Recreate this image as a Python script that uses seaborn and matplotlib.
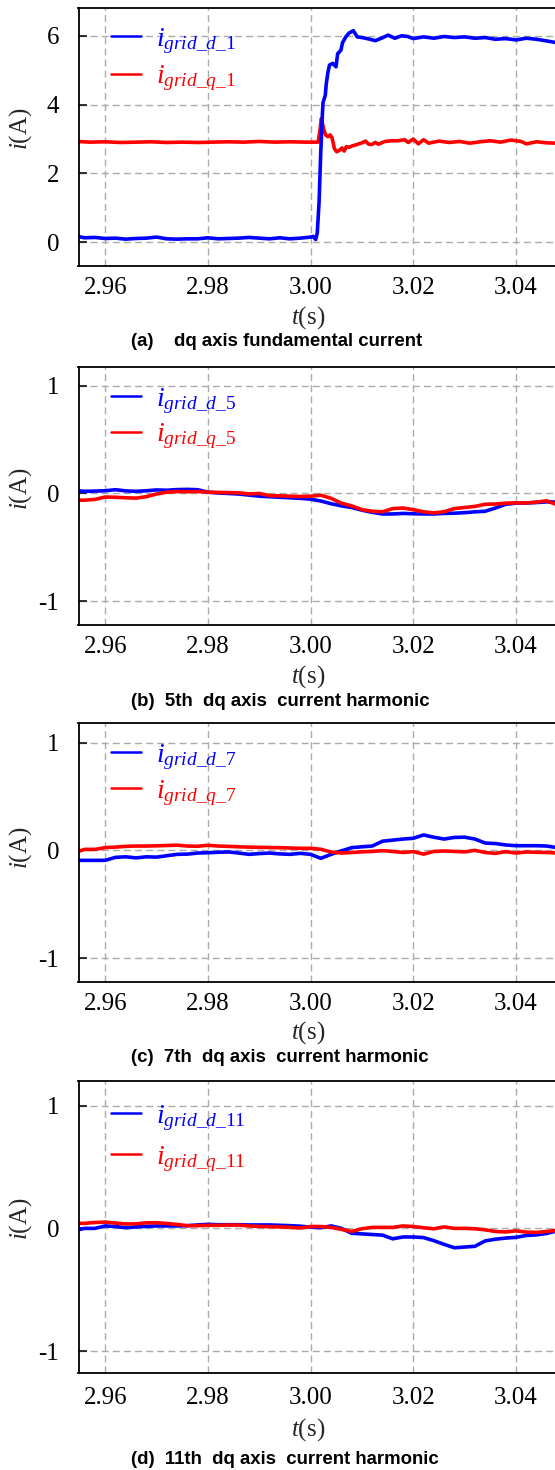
import matplotlib
matplotlib.use("Agg")
import matplotlib.pyplot as plt
import seaborn as sns

# ---------------- measured currents ----------------
# (a) fundamental dq currents
t_d1 = [2.9546, 2.956, 2.958, 2.960, 2.962, 2.964, 2.966, 2.968, 2.970, 2.972, 2.974, 2.976,
        2.978, 2.980, 2.982, 2.984, 2.986, 2.988, 2.990, 2.992, 2.994, 2.996, 2.998, 3.000,
        3.0005, 3.0010, 3.0013, 3.00165, 3.00197, 3.00222, 3.00241, 3.00286, 3.00305, 3.00337,
        3.00368, 3.00432, 3.00495, 3.00527, 3.0059, 3.00622, 3.00686, 3.00749, 3.00832, 3.00908,
        3.0100, 3.0113, 3.0126, 3.0138, 3.0151, 3.0164, 3.0177, 3.0189,
        3.020, 3.022, 3.024, 3.026, 3.028, 3.030, 3.032, 3.034, 3.036, 3.038, 3.040, 3.042,
        3.044, 3.046, 3.048]
i_d1 = [0.17, 0.13, 0.14, 0.11, 0.12, 0.09, 0.11, 0.12, 0.15, 0.10, 0.09, 0.10,
        0.10, 0.13, 0.10, 0.11, 0.12, 0.14, 0.12, 0.10, 0.13, 0.10, 0.12, 0.15,
        0.17, 0.08, 0.27, 1.16, 2.58, 3.47, 4.05, 4.27, 4.60, 4.93,
        5.15, 5.20, 5.10, 5.48, 5.58, 5.80, 5.97, 6.08, 6.15, 5.97,
        5.95, 5.91, 5.86, 5.93, 6.02, 5.93, 6.00, 5.98,
        5.92, 5.97, 5.93, 5.98, 5.95, 5.97, 5.93, 5.95, 5.90, 5.92, 5.88, 5.93,
        5.90, 5.85, 5.80]

t_q1 = [2.9546, 2.957, 2.960, 2.963, 2.966, 2.969, 2.972, 2.975, 2.978, 2.981, 2.984, 2.987,
        2.990, 2.993, 2.996, 2.999,
        3.00146, 3.00178, 3.0021, 3.00229, 3.00254, 3.00292, 3.00337, 3.00381, 3.00419, 3.00464,
        3.00508, 3.00559, 3.0061, 3.00654, 3.00698, 3.0075, 3.0081, 3.0088, 3.0094, 3.0100,
        3.0107, 3.0113, 3.0119, 3.0126, 3.0132, 3.0145, 3.0157, 3.0170, 3.0183, 3.0190,
        3.020, 3.021, 3.022, 3.023, 3.025, 3.027, 3.029, 3.031, 3.033, 3.035, 3.037, 3.039,
        3.041, 3.042, 3.044, 3.046, 3.048]
i_q1 = [2.93, 2.91, 2.92, 2.90, 2.91, 2.92, 2.90, 2.91, 2.90, 2.91, 2.92, 2.91,
        2.93, 2.91, 2.92, 2.91,
        2.91, 3.20, 3.60, 3.47, 3.29, 3.12, 3.07, 3.12, 3.03, 2.72,
        2.63, 2.67, 2.74, 2.65, 2.78, 2.76, 2.80, 2.83, 2.86, 2.89,
        2.94, 2.85, 2.84, 2.90, 2.85, 2.93, 2.95, 2.95, 2.98, 2.90,
        3.00, 2.86, 2.98, 2.88, 2.94, 2.90, 2.93, 2.88, 2.92, 2.95, 2.91, 2.97,
        2.93, 2.86, 2.92, 2.89, 2.88]

# (b)-(d) harmonic dq currents, common sampling instants
t_h = [2.9546, 2.956, 2.958, 2.960, 2.962, 2.964, 2.966, 2.968, 2.970, 2.972, 2.974, 2.976,
       2.978, 2.980, 2.982, 2.984, 2.986, 2.988, 2.990, 2.992, 2.994, 2.996, 2.998, 3.000,
       3.002, 3.004, 3.006, 3.008, 3.010, 3.012, 3.014, 3.016, 3.018, 3.020, 3.022, 3.024,
       3.026, 3.028, 3.030, 3.032, 3.034, 3.036, 3.038, 3.040, 3.042, 3.044, 3.046, 3.048]

i_d5 = [0.025, 0.020, 0.022, 0.025, 0.035, 0.024, 0.020, 0.025, 0.033, 0.030, 0.036, 0.038,
        0.035, 0.012, 0.005, 0.000, -0.005, -0.015, -0.025, -0.030, -0.035, -0.040, -0.045, -0.053,
        -0.070, -0.095, -0.115, -0.130, -0.155, -0.175, -0.190, -0.190, -0.185, -0.188, -0.190, -0.190,
        -0.185, -0.183, -0.178, -0.170, -0.165, -0.135, -0.100, -0.090, -0.088, -0.084, -0.078, -0.080]
i_q5 = [-0.062, -0.062, -0.055, -0.033, -0.035, -0.040, -0.043, -0.030, -0.005, 0.012, 0.018, 0.016,
        0.018, 0.012, 0.010, 0.008, 0.006, -0.004, 0.000, -0.020, -0.022, -0.025, -0.028, -0.025,
        -0.016, -0.045, -0.090, -0.115, -0.150, -0.165, -0.170, -0.140, -0.135, -0.150, -0.170, -0.180,
        -0.170, -0.140, -0.130, -0.120, -0.100, -0.098, -0.090, -0.087, -0.088, -0.080, -0.068, -0.105]

i_d7 = [-0.093, -0.093, -0.093, -0.093, -0.065, -0.060, -0.070, -0.060, -0.063, -0.050, -0.037, -0.035,
        -0.025, -0.022, -0.018, -0.015, -0.025, -0.037, -0.030, -0.025, -0.033, -0.037, -0.028, -0.037,
        -0.074, -0.037, -0.005, 0.025, 0.033, 0.040, 0.085, 0.095, 0.105, 0.112, 0.143, 0.122,
        0.105, 0.120, 0.122, 0.105, 0.068, 0.063, 0.050, 0.043, 0.043, 0.043, 0.040, 0.025]
i_q7 = [-0.012, 0.009, 0.009, 0.025, 0.030, 0.037, 0.040, 0.040, 0.042, 0.045, 0.048, 0.040,
        0.038, 0.047, 0.040, 0.037, 0.033, 0.030, 0.028, 0.026, 0.025, 0.022, 0.019, 0.019,
        0.010, -0.016, -0.025, -0.020, -0.014, -0.010, -0.003, -0.010, -0.020, -0.012, -0.035, -0.010,
        -0.006, -0.010, -0.014, 0.000, -0.020, -0.028, -0.012, -0.025, -0.015, -0.018, -0.020, -0.025]

i_d11 = [-0.012, 0.000, 0.000, 0.020, 0.015, 0.005, 0.012, 0.016, 0.020, 0.020, 0.020, 0.022,
         0.028, 0.033, 0.030, 0.030, 0.030, 0.028, 0.028, 0.028, 0.025, 0.022, 0.018, 0.010,
         0.005, 0.020, 0.000, -0.040, -0.045, -0.050, -0.055, -0.085, -0.070, -0.070, -0.075, -0.100,
         -0.130, -0.158, -0.152, -0.146, -0.102, -0.088, -0.079, -0.073, -0.058, -0.053, -0.041, -0.020]
i_q11 = [0.041, 0.041, 0.048, 0.051, 0.043, 0.036, 0.037, 0.045, 0.046, 0.040, 0.032, 0.022,
         0.022, 0.025, 0.025, 0.027, 0.027, 0.020, 0.016, 0.014, 0.012, 0.008, 0.003, 0.015,
         0.015, 0.008, -0.008, -0.025, -0.003, 0.008, 0.008, 0.008, 0.020, 0.015, 0.005, -0.003,
         0.012, 0.000, 0.000, -0.003, -0.012, -0.025, -0.029, -0.020, -0.030, -0.033, -0.025, -0.015]

x_ticks = [2.96, 2.98, 3.00, 3.02, 3.04]
x_tick_labels = ["2.96", "2.98", "3.00", "3.02", "3.04"]
y_ticks_fund = [0, 2, 4, 6]
y_ticks_harm = [-1, 0, 1]
orders = ["1", "5", "7", "11"]
captions = ["(a)    dq axis fundamental current",
            "(b)  5th  dq axis  current harmonic",
            "(c)  7th  dq axis  current harmonic",
            "(d)  11th  dq axis  current harmonic"]

# ---------------- style ----------------
sns.set_theme(style="white")
plt.rcParams["font.family"] = ["Liberation Serif", "DejaVu Serif"]
plt.rcParams.update({
    "mathtext.fontset": "custom",
    "mathtext.rm": "Liberation Serif",
    "mathtext.it": "Liberation Serif:italic",
    "mathtext.bf": "Liberation Serif:bold",
})

BLUE = "#0000ff"
RED = "#ff0000"
LW = 2.6
W, H = 555, 1470
LEFT = 78.5

fig = plt.figure(figsize=(W / 100, H / 100), dpi=100)

# pixel geometry of every panel: top, bottom, ylim, legend top and row spacing,
# x-tick pad, x-label centre, y-label centre, caption centre
panels = [
    dict(top=8.3, bottom=266.0, ylim=(-0.69, 6.80), yt=y_ticks_fund, d=(t_d1, i_d1), q=(t_q1, i_q1),
         d_top=True, leg=26.0, lsp=0.28, xpad=8.0, xl=318, yl=129, cap=342),
    dict(top=366.7, bottom=625.0, ylim=(-1.22, 1.176), yt=y_ticks_harm, d=(t_h, i_d5), q=(t_h, i_q5),
         d_top=False, leg=386.0, lsp=0.21, xpad=8.0, xl=677, yl=489, cap=702),
    dict(top=723.3, bottom=981.7, ylim=(-1.22, 1.18), yt=y_ticks_harm, d=(t_h, i_d7), q=(t_h, i_q7),
         d_top=False, leg=742.0, lsp=0.24, xpad=8.0, xl=1033, yl=847.5, cap=1058),
    dict(top=1081.0, bottom=1373.3, ylim=(-1.18, 1.20), yt=y_ticks_harm, d=(t_h, i_d11), q=(t_h, i_q11),
         d_top=False, leg=1103.0, lsp=0.40, xpad=9.9, xl=1430, yl=1218.5, cap=1459),
]

for k, p in enumerate(panels):
    h_px = p["bottom"] - p["top"]
    ax = fig.add_axes([LEFT / W, 1 - p["bottom"] / H, (W - LEFT) / W, h_px / H])

    series = [("q", p["q"], RED), ("d", p["d"], BLUE)] if p["d_top"] else \
             [("d", p["d"], BLUE), ("q", p["q"], RED)]
    handles = {}
    for key, (tt, yy), col in series:
        sns.lineplot(x=tt, y=yy, ax=ax, color=col, linewidth=LW, errorbar=None, legend=False)
        handles[key] = ax.get_lines()[-1]

    ax.set_xlim(2.9548, 3.0476)
    ax.set_ylim(*p["ylim"])
    ax.set_xticks(x_ticks)
    ax.set_xticklabels(x_tick_labels)
    ax.set_yticks(p["yt"])
    ax.set_yticklabels([str(v) for v in p["yt"]])
    ax.grid(True, color="#ababab", linestyle=(0, (5, 3)), linewidth=1.0)
    ax.set_axisbelow(True)
    ax.tick_params(axis="x", length=0, pad=p["xpad"], labelsize=18, colors="black")
    ax.tick_params(axis="y", direction="in", length=5.5, width=1.1, pad=14, labelsize=18,
                   colors="black", left=True)
    for side in ("left", "bottom", "top"):
        ax.spines[side].set_color("black")
        ax.spines[side].set_linewidth(1.3)
    ax.spines["right"].set_visible(False)

    ax.set_xlabel(r"$t$(s)", fontsize=18)
    ax.xaxis.set_label_coords((308 - LEFT) / (W - LEFT), (p["bottom"] - p["xl"]) / h_px)
    ax.xaxis.label.set_va("center")
    ax.set_ylabel(r"$i$(A)", fontsize=18)
    ax.yaxis.set_label_coords((21 - LEFT) / (W - LEFT), (p["bottom"] - p["yl"]) / h_px)
    ax.yaxis.label.set_va("center")

    n = orders[k]
    labels = [r"$i_{grid\_d\_%s}$" % n, r"$i_{grid\_q\_%s}$" % n]
    leg = ax.legend([handles["d"], handles["q"]], labels, loc="upper left",
                    bbox_to_anchor=((111 - LEFT) / (W - LEFT), (p["bottom"] - p["leg"]) / h_px),
                    frameon=False, fontsize=20, handlelength=1.08, handletextpad=0.55,
                    labelspacing=p["lsp"], borderpad=0, borderaxespad=0, labelcolor="linecolor")
    for ln in leg.get_lines():
        ln.set_linewidth(1.8)

    fig.text(131 / W, 1 - p["cap"] / H, captions[k], ha="left", va="center",
             family="Liberation Sans", weight="bold", fontsize=13.4, color="black")

fig.savefig("out.png", dpi=100)
